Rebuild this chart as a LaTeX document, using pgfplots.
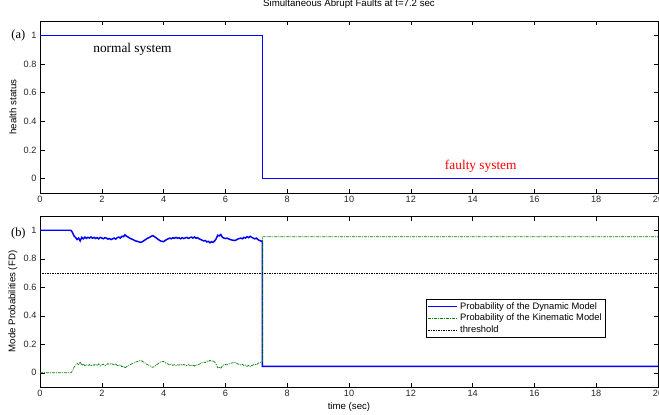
\documentclass[border=0pt]{standalone}
\usepackage{pgfplots}
\pgfplotsset{compat=1.18}
\usepackage{fontspec}
\setmainfont{Liberation Sans}
\newfontfamily\seriffont{Liberation Serif}
\definecolor{mblue}{rgb}{0,0,1}
\definecolor{mgreen}{rgb}{0,0.5,0}
\pgfplotsset{
  mystyle/.style={
    scale only axis, width=618bp,
    xmin=0, xmax=20, ymin=-0.1, ymax=1.1,
    xtick={0,2,...,20}, ytick={0,0.2,0.4,0.6,0.8,1},
    yticklabels={0,0.2,0.4,0.6,0.8,1},
    tick align=inside, major tick length=4.5bp,
    tick style={black, line width=0.4pt},
    axis line style={black, line width=0.5pt},
    /pgf/number format/assume math mode=true,
    tick label style={font=\fontsize{9.2}{10}\selectfont, color=black!85},
    label style={font=\fontsize{9.7}{11}\selectfont},
    clip=false,
    ylabel style={at={(axis description cs:-0.044,0.5)}, anchor=center, rotate=0},
  }
}
\begin{document}
\begin{tikzpicture}[x=1bp,y=1bp]
\useasboundingbox (0,0) rectangle (659,414);
% top axis
\begin{axis}[mystyle, at={(40bp,221bp)}, anchor=south west, height=172bp,
  ylabel={health status},
  title={Simultaneous Abrupt Faults at t=7.2 sec},
  title style={font=\fontsize{9.7}{11}\selectfont, at={(axis description cs:0.5,1)}, anchor=south, yshift=3bp},
]
\addplot[mblue, line width=1.5pt] coordinates {(0,1) (7.2,1) (7.2,0) (20,0)};
\node[font=\seriffont\fontsize{12.5}{14}\selectfont] at (axis cs:-0.7,1) {(a)};
\node[font=\seriffont\fontsize{13.4}{15}\selectfont, anchor=west, inner sep=0pt] at (axis cs:1.72,0.9) {normal system};
\node[font=\seriffont\fontsize{13.4}{15}\selectfont, text=red, anchor=west, inner sep=0pt] at (axis cs:13.1,0.09) {faulty system};
\end{axis}
% bottom axis
\begin{axis}[mystyle, at={(40bp,27bp)}, anchor=south west, height=171bp,
  ylabel={Mode Probabilities (FD)},
  xlabel={time (sec)},
  xlabel style={at={(axis description cs:0.5,0)}, anchor=north, yshift=-12bp},
  legend style={at={(axis cs:18.3,0.245)}, anchor=south east, draw=black, line width=0.5pt,
    font=\fontsize{9.4}{10}\selectfont, inner sep=1.5pt, row sep=-0.6pt},
  legend cell align=left,
]
\addplot[mblue, line width=1.5pt, legend image code/.code={\draw[mblue, line width=1.5pt] (0bp,0bp) -- (29bp,0bp);}] coordinates {
(0,1) (1.0,1.0) (1.05,0.985) (1.1,0.96) (1.15,0.95) (1.2,0.935) (1.25,0.945) (1.3,0.925) (1.35,0.95) (1.4,0.94) (1.45,0.952)
(1.5,0.943) (1.55,0.95) (1.6,0.945) (1.65,0.953) (1.7,0.944) (1.75,0.95) (1.8,0.942) (1.85,0.948) (1.9,0.94) (1.95,0.95)
(2.0,0.946) (2.05,0.94) (2.1,0.948) (2.15,0.945) (2.2,0.938) (2.25,0.942) (2.3,0.935) (2.35,0.94) (2.4,0.945) (2.45,0.938)
(2.5,0.948) (2.55,0.952) (2.6,0.945) (2.65,0.958) (2.7,0.955) (2.75,0.968) (2.8,0.958) (2.85,0.952) (2.9,0.945) (2.95,0.94)
(3.0,0.935) (3.05,0.93) (3.1,0.925) (3.15,0.922) (3.2,0.918) (3.25,0.915) (3.3,0.918) (3.35,0.925) (3.4,0.932) (3.45,0.94)
(3.5,0.946) (3.55,0.95) (3.6,0.958) (3.65,0.962) (3.7,0.956) (3.75,0.948) (3.8,0.94) (3.85,0.932) (3.9,0.925) (3.95,0.922)
(4.0,0.92) (4.05,0.928) (4.1,0.935) (4.15,0.94) (4.2,0.945) (4.25,0.94) (4.3,0.948) (4.35,0.943) (4.4,0.95) (4.45,0.944)
(4.5,0.947) (4.55,0.94) (4.6,0.948) (4.65,0.942) (4.7,0.946) (4.75,0.95) (4.8,0.943) (4.85,0.948) (4.9,0.952) (4.95,0.945)
(5.0,0.953) (5.05,0.944) (5.1,0.948) (5.15,0.94) (5.2,0.935) (5.25,0.93) (5.3,0.925) (5.35,0.928) (5.4,0.918) (5.45,0.922)
(5.5,0.912) (5.55,0.92) (5.6,0.915) (5.65,0.925) (5.7,0.94) (5.75,0.965) (5.8,0.96) (5.85,0.97) (5.9,0.952) (5.95,0.945)
(6.0,0.942) (6.05,0.945) (6.1,0.94) (6.15,0.935) (6.2,0.932) (6.25,0.93) (6.3,0.928) (6.35,0.932) (6.4,0.938) (6.45,0.942)
(6.5,0.945) (6.55,0.94) (6.6,0.95) (6.65,0.945) (6.7,0.955) (6.75,0.948) (6.8,0.958) (6.85,0.95) (6.9,0.945) (6.95,0.94)
(7.0,0.945) (7.05,0.935) (7.1,0.928) (7.15,0.925) (7.2,0.92) (7.2,0.045) (20,0.045)
};
\addlegendentry{Probability of the Dynamic Model}
\addplot[mgreen, line width=0.7pt, dash pattern=on 3pt off 1pt on 1pt off 1pt, legend image code/.code={\draw[mgreen, line width=0.9pt, dash pattern=on 3pt off 1pt on 1pt off 1pt] (0bp,0bp) -- (29bp,0bp);}] coordinates {
(0,0) (1.0,0.0) (1.05,0.012) (1.1,0.038) (1.15,0.052) (1.2,0.066) (1.25,0.056) (1.3,0.076) (1.35,0.052) (1.4,0.062) (1.45,0.05)
(1.5,0.058) (1.55,0.05) (1.6,0.057) (1.65,0.048) (1.7,0.058) (1.75,0.052) (1.8,0.06) (1.85,0.05) (1.9,0.062) (1.95,0.048)
(2.0,0.055) (2.05,0.06) (2.1,0.05) (2.15,0.056) (2.2,0.064) (2.25,0.058) (2.3,0.066) (2.35,0.06) (2.4,0.054) (2.45,0.064)
(2.5,0.052) (2.55,0.048) (2.6,0.056) (2.65,0.042) (2.7,0.046) (2.75,0.033) (2.8,0.044) (2.85,0.048) (2.9,0.056) (2.95,0.06)
(3.0,0.066) (3.05,0.07) (3.1,0.076) (3.15,0.078) (3.2,0.082) (3.25,0.086) (3.3,0.082) (3.35,0.075) (3.4,0.068) (3.45,0.06)
(3.5,0.054) (3.55,0.05) (3.6,0.042) (3.65,0.038) (3.7,0.044) (3.75,0.052) (3.8,0.06) (3.85,0.068) (3.9,0.075) (3.95,0.078)
(4.0,0.08) (4.05,0.072) (4.1,0.065) (4.15,0.06) (4.2,0.055) (4.25,0.06) (4.3,0.052) (4.35,0.057) (4.4,0.05) (4.45,0.056)
(4.5,0.053) (4.55,0.06) (4.6,0.052) (4.65,0.058) (4.7,0.054) (4.75,0.05) (4.8,0.057) (4.85,0.052) (4.9,0.048) (4.95,0.055)
(5.0,0.047) (5.05,0.056) (5.1,0.052) (5.15,0.06) (5.2,0.065) (5.25,0.07) (5.3,0.075) (5.35,0.072) (5.4,0.082) (5.45,0.078)
(5.5,0.088) (5.55,0.08) (5.6,0.085) (5.65,0.075) (5.7,0.06) (5.75,0.035) (5.8,0.04) (5.85,0.03) (5.9,0.048) (5.95,0.055)
(6.0,0.058) (6.05,0.055) (6.1,0.06) (6.15,0.065) (6.2,0.068) (6.25,0.07) (6.3,0.072) (6.35,0.068) (6.4,0.062) (6.45,0.058)
(6.5,0.055) (6.55,0.06) (6.6,0.05) (6.65,0.055) (6.7,0.045) (6.75,0.052) (6.8,0.042) (6.85,0.05) (6.9,0.055) (6.95,0.06)
(7.0,0.055) (7.05,0.065) (7.1,0.072) (7.15,0.075) (7.2,0.08) (7.2,0.955) (20,0.955)
};
\addlegendentry{Probability of the Kinematic Model}
\addplot[black, line width=0.4pt, dash pattern=on 1.5pt off 1pt, legend image code/.code={\draw[black, line width=0.4pt, dash pattern=on 1.5pt off 1pt] (0bp,0bp) -- (29bp,0bp);}] coordinates {(0,0.7) (20,0.7)};
\addlegendentry{threshold}
\node[font=\seriffont\fontsize{12.5}{14}\selectfont] at (axis cs:-0.7,0.98) {(b)};
\end{axis}
\end{tikzpicture}
\end{document}
